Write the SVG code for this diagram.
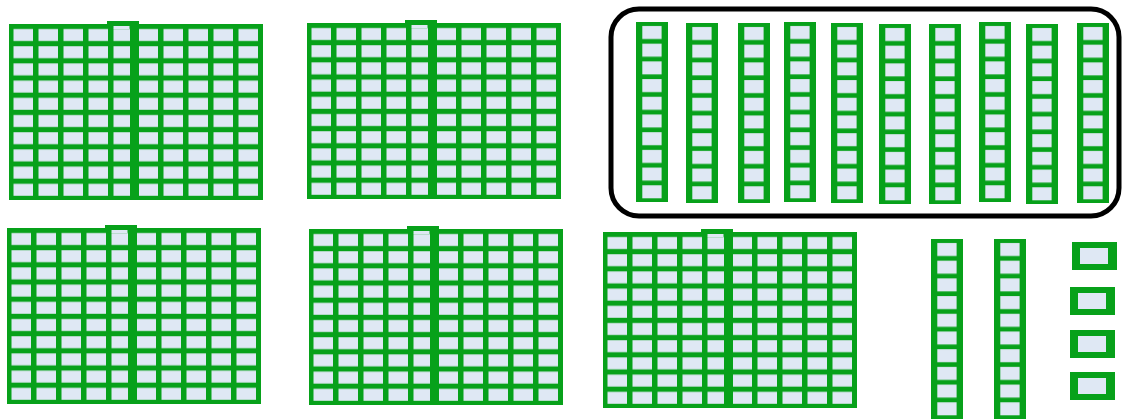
<svg xmlns="http://www.w3.org/2000/svg" width="1125" height="420" viewBox="0 0 1125 420">
<style>
.g{fill:#07a11a}
.c{fill:#dfe8f4}
.loop{fill:none;stroke:#000;stroke-width:5;stroke-linejoin:round}
</style>
<defs>
<pattern id="hcells" patternUnits="userSpaceOnUse" width="25" height="17.2">
<rect class="c" x="4.5" y="5" width="19.5" height="12"/>
</pattern>
<pattern id="tcells" patternUnits="userSpaceOnUse" width="32" height="17.7">
<rect class="c" x="6.3" y="4" width="19.3" height="13"/>
</pattern>
<g id="H">
<rect class="g" x="98" y="-3" width="32" height="8"/>
<rect class="g" x="0" y="0" width="254" height="176"/>
<rect x="0" y="0" width="254" height="176" fill="url(#hcells)"/>
<rect class="g" x="121" y="0" width="9" height="176"/>
<rect class="c" x="104.5" y="2" width="16" height="3"/>
</g>
<g id="T">
<rect class="g" x="0" y="0" width="32" height="180"/>
<rect x="0" y="0" width="32" height="180" fill="url(#tcells)"/>
</g>
<g id="O">
<rect class="g" x="0" y="0" width="45" height="28"/>
<rect class="c" x="8" y="6" width="28" height="16"/>
</g>
</defs>
<g id="hundred1"><use href="#H" x="9" y="24"/></g>
<g id="hundred2"><use href="#H" x="307" y="23"/></g>
<g id="hundred3"><use href="#H" x="7" y="228"/></g>
<g id="hundred4"><use href="#H" x="309" y="229"/></g>
<g id="hundred5"><use href="#H" x="603" y="232"/></g>
<g id="group-of-ten-tens">
<rect class="loop" x="611" y="9" width="508" height="207" rx="28"/>
<g id="ten1"><use href="#T" x="636" y="22"/></g>
<g id="ten2"><use href="#T" x="686" y="23"/></g>
<g id="ten3"><use href="#T" x="738" y="23"/></g>
<g id="ten4"><use href="#T" x="784" y="22"/></g>
<g id="ten5"><use href="#T" x="831" y="23"/></g>
<g id="ten6"><use href="#T" x="879" y="24"/></g>
<g id="ten7"><use href="#T" x="929" y="24"/></g>
<g id="ten8"><use href="#T" x="979" y="22"/></g>
<g id="ten9"><use href="#T" x="1026" y="24"/></g>
<g id="ten10"><use href="#T" x="1077" y="23"/></g>
</g>
<g id="ten11"><use href="#T" x="931" y="239"/></g>
<g id="ten12"><use href="#T" x="994" y="239"/></g>
<g id="one1"><use href="#O" x="1072" y="242"/></g>
<g id="one2"><use href="#O" x="1070" y="287"/></g>
<g id="one3"><use href="#O" x="1070" y="330"/></g>
<g id="one4"><use href="#O" x="1070" y="372"/></g>
<g id="connectors"/>
</svg>
